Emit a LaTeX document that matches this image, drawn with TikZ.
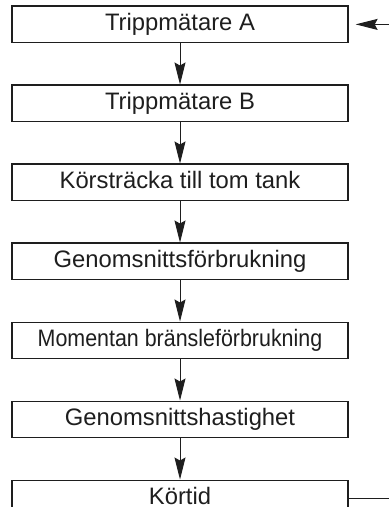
\documentclass[tikz,border=0pt]{standalone}
\usepackage{fontspec}
\usepackage{graphicx}
\setmainfont{Liberation Sans}
\usetikzlibrary{arrows.meta,positioning}
\definecolor{ink}{HTML}{1E1E1E}
\tikzset{
  menubox/.style={rectangle,draw=ink,line width=0.65pt,fill=white,minimum width=168pt,minimum height=18.25pt,inner sep=0pt,text height=9pt,text depth=2.5pt,text=ink,font=\fontsize{11.9}{14}\selectfont},
  arrow/.style={-{Stealth[length=11pt,width=5.5pt,inset=1.5pt]},line width=0.5pt,ink},
  link/.style={line width=0.5pt,ink}
}

\begin{document}
\begin{tikzpicture}[node distance=20.6pt]
    \useasboundingbox (0,0) rectangle (194.5pt,-253.5pt);
    \node[menubox] (tripA) at (90pt,-12.2pt) {Trippmätare A};
    \node[menubox,below=of tripA] (tripB) {Trippmätare B};
    \node[menubox,below=of tripB] (range) {Körsträcka till tom tank};
    \node[menubox,below=of range] (avgfuel) {Genomsnittsförbrukning};
    \node[menubox,below=of avgfuel] (instfuel) {\scalebox{0.9}[1]{Momentan bränsleförbrukning}};
    \node[menubox,below=of instfuel] (avgspeed) {Genomsnittshastighet};
    \node[menubox,below=of avgspeed] (drivetime) {Körtid};
    \draw[arrow] (tripA) -- (tripB);
    \draw[arrow] (tripB) -- (range);
    \draw[arrow] (range) -- (avgfuel);
    \draw[arrow] (avgfuel) -- (instfuel);
    \draw[arrow] (instfuel) -- (avgspeed);
    \draw[arrow] (avgspeed) -- (drivetime);
    % loop back to the top
    \coordinate (backin) at (194.5pt,0 |- tripA.east);
    \coordinate (backout) at (194.5pt,0 |- drivetime.east);
    \draw[arrow,shorten >=3.5pt] (backin) -- (tripA.east);
    \draw[link] (drivetime.east) -- (backout);
  \end{tikzpicture}
\end{document}
